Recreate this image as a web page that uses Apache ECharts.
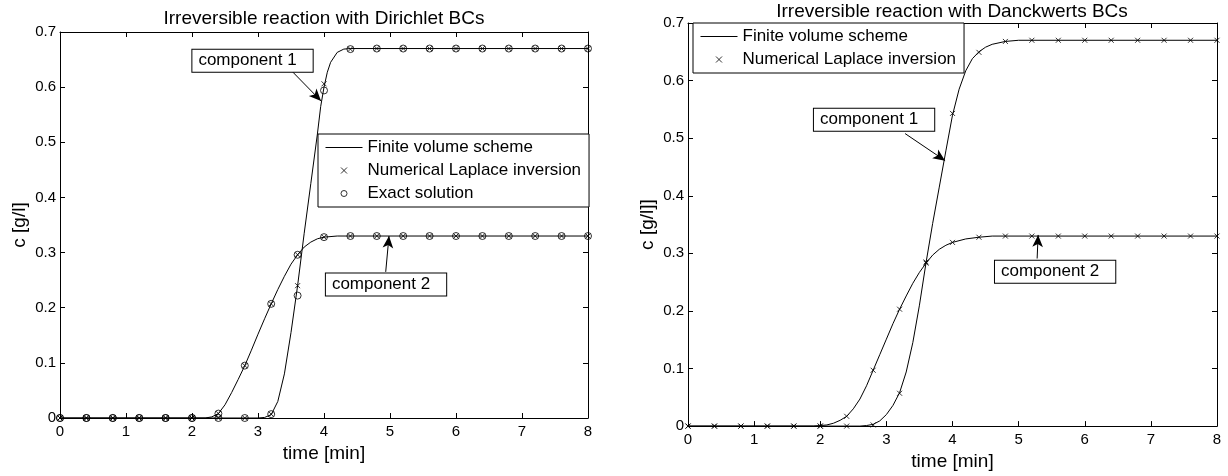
<!DOCTYPE html>
<html>
<head>
<meta charset="utf-8">
<title>Irreversible reaction</title>
<script src="https://cdn.jsdelivr.net/npm/echarts@6/dist/echarts.min.js"></script>
<style>
  html, body { margin: 0; padding: 0; background: #fff; }
  #chart { width: 1228px; height: 476px; }
</style>
</head>
<body>
<div id="chart"></div>
<script>
// marker times, every 0.4 min
const markT = [0, 0.4, 0.8, 1.2, 1.6, 2.0, 2.4, 2.8, 3.2, 3.6, 4.0, 4.4, 4.8, 5.2, 5.6, 6.0, 6.4, 6.8, 7.2, 7.6, 8.0];

// --- Dirichlet BCs (left) ---
// finite volume curves
const dirLineT1 = [0, 3.0, 3.1, 3.2, 3.3, 3.4, 3.5, 3.6, 3.7, 3.8, 3.9, 3.95, 4.0, 4.05, 4.1, 4.2, 4.3, 4.4, 8];
const dirLineC1 = [0, 0, 0.001, 0.006, 0.03, 0.08, 0.155, 0.24, 0.335, 0.425, 0.515, 0.565, 0.6, 0.627, 0.645, 0.663, 0.669, 0.67, 0.67];
const dirLineT2 = [0, 2.2, 2.3, 2.4, 2.5, 2.6, 2.7, 2.8, 2.9, 3.0, 3.1, 3.2, 3.3, 3.4, 3.5, 3.6, 3.7, 3.8, 3.9, 4.0, 4.2, 4.4, 8];
const dirLineC2 = [0, 0, 0.002, 0.008, 0.024, 0.046, 0.07, 0.095, 0.123, 0.152, 0.18, 0.207, 0.233, 0.257, 0.279, 0.296, 0.31, 0.319, 0.325, 0.328, 0.33, 0.33, 0.33];
// numerical Laplace inversion (x) and exact solution (o)
const dirLapC1 = [0, 0, 0, 0, 0, 0, 0, 0, 0.007, 0.24, 0.606, 0.669, 0.67, 0.67, 0.67, 0.67, 0.67, 0.67, 0.67, 0.67, 0.67];
const dirExC1  = [0, 0, 0, 0, 0, 0, 0, 0, 0.007, 0.222, 0.594, 0.669, 0.67, 0.67, 0.67, 0.67, 0.67, 0.67, 0.67, 0.67, 0.67];
const dirLapC2 = [0, 0, 0, 0, 0, 0, 0.008, 0.095, 0.207, 0.296, 0.328, 0.33, 0.33, 0.33, 0.33, 0.33, 0.33, 0.33, 0.33, 0.33, 0.33];
const dirExC2  = [0, 0, 0, 0, 0, 0, 0.008, 0.095, 0.207, 0.296, 0.328, 0.33, 0.33, 0.33, 0.33, 0.33, 0.33, 0.33, 0.33, 0.33, 0.33];

// --- Danckwerts BCs (right) ---
const danLineT1 = [0, 2.6, 2.7, 2.8, 2.9, 3.0, 3.1, 3.2, 3.3, 3.4, 3.5, 3.6, 3.7, 3.8, 3.9, 4.0, 4.1, 4.2, 4.3, 4.4, 4.5, 4.6, 4.8, 5.0, 8];
const danLineC1 = [0, 0, 0.001, 0.003, 0.009, 0.02, 0.036, 0.058, 0.094, 0.145, 0.21, 0.284, 0.352, 0.415, 0.478, 0.54, 0.585, 0.617, 0.638, 0.65, 0.658, 0.663, 0.668, 0.67, 0.67];
const danLineT2 = [0, 1.9, 2.0, 2.1, 2.2, 2.3, 2.4, 2.5, 2.6, 2.7, 2.8, 2.9, 3.0, 3.1, 3.2, 3.3, 3.4, 3.5, 3.6, 3.7, 3.8, 3.9, 4.0, 4.2, 4.4, 4.6, 4.8, 8];
const danLineC2 = [0, 0, 0.001, 0.002, 0.005, 0.01, 0.017, 0.03, 0.047, 0.07, 0.097, 0.124, 0.151, 0.178, 0.203, 0.226, 0.248, 0.267, 0.283, 0.297, 0.307, 0.314, 0.319, 0.325, 0.328, 0.33, 0.33, 0.33];
const danLapC1 = [0, 0, 0, 0, 0, 0, 0, 0.002, 0.057, 0.285, 0.543, 0.649, 0.668, 0.67, 0.67, 0.67, 0.67, 0.67, 0.67, 0.67, 0.67];
const danLapC2 = [0, 0, 0, 0, 0, 0, 0.017, 0.097, 0.203, 0.283, 0.319, 0.328, 0.33, 0.33, 0.33, 0.33, 0.33, 0.33, 0.33, 0.33, 0.33];

const titles = ['Irreversible reaction with Dirichlet BCs', 'Irreversible reaction with Danckwerts BCs'];
const yNames = ['c [g/l]', 'c [g/l]]'];
const xName = 'time [min]';
const legendDir = ['Finite volume scheme', 'Numerical Laplace inversion', 'Exact solution'];
const legendDan = ['Finite volume scheme', 'Numerical Laplace inversion'];

const FONT = "'Liberation Sans', Arial, sans-serif";
const BLACK = '#000';
const CROSS = 'path://M0 0L10 10M10 0L0 10';

const pairs = (t, v) => t.map((x, i) => [x, v[i]]);

const chart = echarts.init(document.getElementById('chart'), null, { renderer: 'canvas' });

// axis builders (MATLAB style box with inside ticks)
function xAxisFor(grid, pos) {
  const main = pos === 'bottom';
  return {
    type: 'value', gridIndex: grid, position: pos, min: 0, max: 8, interval: 1,
    axisLine: { show: true, onZero: false, lineStyle: { color: BLACK, width: 1 } },
    axisTick: { show: true, inside: true, length: 5, lineStyle: { color: BLACK } },
    axisLabel: { show: main, color: BLACK, fontSize: 15, fontFamily: FONT, margin: 6 },
    splitLine: { show: false },
    name: main ? xName : '', nameLocation: 'middle', nameGap: 24,
    nameTextStyle: { color: BLACK, fontSize: 19, fontFamily: FONT }
  };
}
function yAxisFor(grid, pos) {
  const main = pos === 'left';
  return {
    type: 'value', gridIndex: grid, position: pos, min: 0, max: 0.7, interval: 0.1,
    axisLine: { show: true, onZero: false, lineStyle: { color: BLACK, width: 1 } },
    axisTick: { show: true, inside: true, length: 5, lineStyle: { color: BLACK } },
    axisLabel: { show: main, color: BLACK, fontSize: 15, fontFamily: FONT, margin: 4 },
    splitLine: { show: false },
    name: main ? yNames[grid] : '', nameLocation: 'middle', nameGap: 31,
    nameTextStyle: { color: BLACK, fontSize: 19, fontFamily: FONT }
  };
}

const lineSeries = (grid, name, data, extra) => Object.assign({
  type: 'line', name, xAxisIndex: grid * 2, yAxisIndex: grid * 2, data,
  symbol: 'none', smooth: false,
  lineStyle: { color: BLACK, width: 1 }, itemStyle: { color: BLACK },
  silent: true, z: 2
}, extra || {});

const markSeries = (grid, name, values, symbol, size) => ({
  type: 'scatter', name, xAxisIndex: grid * 2, yAxisIndex: grid * 2,
  data: pairs(markT, values), symbol, symbolSize: size,
  itemStyle: { color: 'none', borderColor: BLACK, borderWidth: 1 },
  silent: true, z: 3
});

// annotation: text box at boxAt, arrow from arrowFrom to arrowTo (data coords)
const note = (text, boxAt, arrowFrom, arrowTo) => ({
  markPoint: {
    symbol: 'rect', symbolSize: 0, silent: true,
    label: {
      show: true, position: 'inside', formatter: text, color: BLACK,
      fontSize: 17, fontFamily: FONT, backgroundColor: '#fff',
      borderColor: BLACK, borderWidth: 1, padding: [3, 16, 2, 6]
    },
    data: [{ coord: boxAt }]
  },
  markLine: {
    silent: true, symbol: ['none', 'arrow'], symbolSize: [8, 12],
    lineStyle: { color: BLACK, width: 1, type: 'solid' },
    label: { show: false }, emphasis: { disabled: true },
    data: [[{ coord: arrowFrom }, { coord: arrowTo }]]
  }
});

// legend entries: the line entry shows only a line (hide the default dot)
const legendItems = names => names.map((n, i) => i === 0 ? { name: n, itemStyle: { opacity: 0 } } : { name: n });

const legendBase = {
  orient: 'vertical', selectedMode: false,
  itemWidth: 37, itemHeight: 6, itemGap: 6,
  padding: [5, 8, 5, 7], borderColor: BLACK, borderWidth: 1, backgroundColor: '#fff',
  lineStyle: { width: 1 },
  itemStyle: { borderWidth: 1 },
  textStyle: { color: BLACK, fontSize: 17, fontFamily: FONT }
};

const option = {
  backgroundColor: '#fff',
  animation: false,
  textStyle: { fontFamily: FONT },
  grid: [
    { left: 60, top: 32, width: 528, height: 386 },
    { left: 688, top: 23, width: 529, height: 404 }
  ],
  xAxis: [xAxisFor(0, 'bottom'), xAxisFor(0, 'top'), xAxisFor(1, 'bottom'), xAxisFor(1, 'top')],
  yAxis: [yAxisFor(0, 'left'), yAxisFor(0, 'right'), yAxisFor(1, 'left'), yAxisFor(1, 'right')],
  legend: [
    Object.assign({}, legendBase, { left: 318, top: 134, data: legendItems(legendDir) }),
    Object.assign({}, legendBase, { left: 693, top: 23, data: legendItems(legendDan) })
  ],
  graphic: [
    { type: 'text', x: 324, y: 19, z: 10,
      style: { text: titles[0], align: 'center', verticalAlign: 'middle', fill: BLACK, font: '19px ' + FONT } },
    { type: 'text', x: 952, y: 12, z: 10,
      style: { text: titles[1], align: 'center', verticalAlign: 'middle', fill: BLACK, font: '19px ' + FONT } }
  ],
  series: [
    // left
    lineSeries(0, legendDir[0], pairs(dirLineT1, dirLineC1),
      note('component 1', [2.917, 0.648], [3.53, 0.627], [3.955, 0.575])),
    lineSeries(0, legendDir[0], pairs(dirLineT2, dirLineC2),
      note('component 2', [4.94, 0.242], [4.935, 0.265], [4.985, 0.33])),
    markSeries(0, legendDir[1], dirLapC1, CROSS, 5),
    markSeries(0, legendDir[1], dirLapC2, CROSS, 5),
    markSeries(0, legendDir[2], dirExC1, 'circle', 7),
    markSeries(0, legendDir[2], dirExC2, 'circle', 7),
    // right
    lineSeries(1, legendDan[0], pairs(danLineT1, danLineC1),
      note('component 1', [2.814, 0.532], [3.283, 0.508], [3.888, 0.461])),
    lineSeries(1, legendDan[0], pairs(danLineT2, danLineC2),
      note('component 2', [5.552, 0.268], [5.28, 0.291], [5.295, 0.332])),
    markSeries(1, legendDan[1], danLapC1, CROSS, 5),
    markSeries(1, legendDan[1], danLapC2, CROSS, 5)
  ]
};

chart.setOption(option);
window.addEventListener('resize', () => chart.resize());
</script>
</body>
</html>
